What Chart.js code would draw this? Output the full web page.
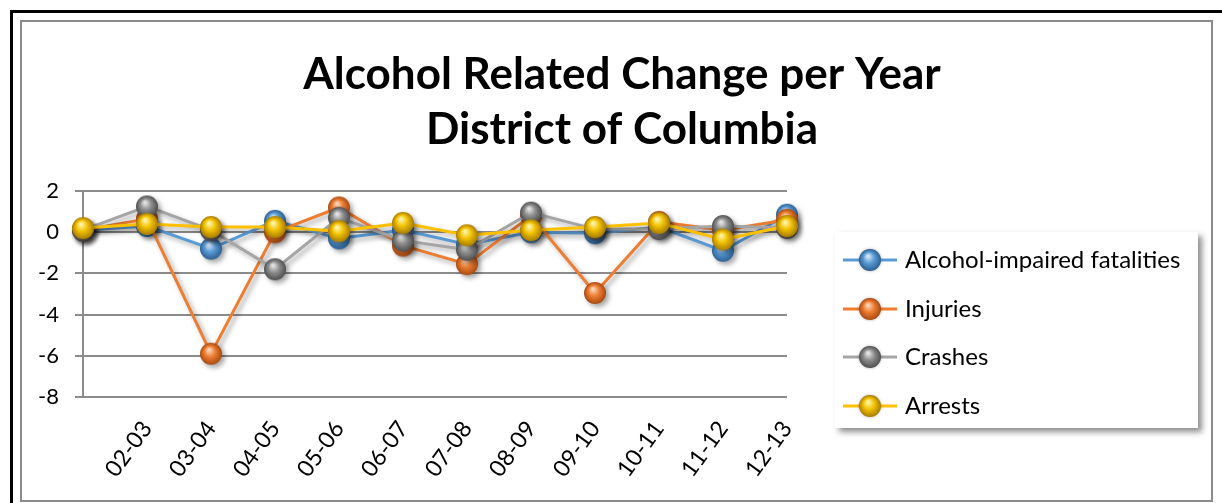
<!DOCTYPE html>
<html>
<head>
<meta charset="utf-8">
<script src="https://cdn.jsdelivr.net/npm/chart.js@4.4.1/dist/chart.umd.min.js"></script>
<style>
    html, body { margin: 0; padding: 0; background: #fff; }
    #wrap { position: relative; width: 1222px; height: 503px; overflow: hidden; }
    .outer { position: absolute; left: 10px; top: 10px; width: 1300px; height: 600px; border: 3px solid #000; box-sizing: border-box; }
    .inner { position: absolute; left: 20px; top: 20px; width: 1193px; height: 482px; border: 2px solid #8c8c8c; box-sizing: border-box; }
    canvas { position: absolute; left: 0; top: 0; }
</style>
</head>
<body>
<div id="wrap">
    <div class="outer"></div>
    <div class="inner"></div>
    <canvas id="chart" width="1222" height="503"></canvas>
</div>
<script>
const categories = ['', '02-03', '03-04', '04-05', '05-06', '06-07', '07-08', '08-09', '09-10', '10-11', '11-12', '12-13'];
const fatalities = [0.1, 0.3, -0.8, 0.55, -0.3, 0.1, -0.6, 0.0, -0.05, 0.25, -0.9, 0.85];
const injuries = [0.1, 0.65, -5.9, 0.0, 1.2, -0.65, -1.55, 0.8, -2.95, 0.5, 0.1, 0.6];
const crashes = [0.1, 1.25, 0.1, -1.8, 0.7, -0.4, -0.85, 0.95, 0.15, 0.15, 0.3, 0.2];
const arrests = [0.2, 0.4, 0.25, 0.25, 0.05, 0.45, -0.15, 0.1, 0.25, 0.45, -0.35, 0.3];
const yTicks = [2, 0, -2, -4, -6, -8];

const FONT = 'Lato, "Open Sans", sans-serif';

// Utility: shaded ball used as point marker
function makeBall(base, light, dark) {
    const c = document.createElement('canvas');
    c.width = 24;
    c.height = 24;
    const g = c.getContext('2d');
    const grad = g.createRadialGradient(10, 8, 1, 12, 12, 11);
    grad.addColorStop(0, light);
    grad.addColorStop(0.45, base);
    grad.addColorStop(1, dark);
    g.fillStyle = grad;
    g.beginPath();
    g.arc(12, 12, 11, 0, Math.PI * 2);
    g.fill();
    return c;
}

function series(label, data, color, ball, order) {
    return {
        label: label,
        data: data,
        borderColor: color,
        borderWidth: 3,
        pointStyle: ball,
        pointRadius: 11,
        pointHoverRadius: 11,
        tension: 0,
        clip: false,
        order: order
    };
}

const datasets = [
    series('Alcohol-impaired fatalities', fatalities, '#5B9BD5', makeBall('#5B9BD5', '#CFE3F5', '#2B5F92'), 3),
    series('Injuries', injuries, '#ED7D31', makeBall('#ED7D31', '#F9D2B4', '#A84A12'), 2),
    series('Crashes', crashes, '#A5A5A5', makeBall('#8E8E8E', '#E2E2E2', '#4F4F4F'), 1),
    series('Arrests', arrests, '#FFC000', makeBall('#F2C200', '#FFF3A8', '#A97C00'), 0)
];

// soft shadow under lines and balls
const shadowPlugin = {
    id: 'softShadow',
    beforeDatasetDraw(chart) {
        const ctx = chart.ctx;
        ctx.save();
        ctx.shadowColor = 'rgba(0,0,0,0.35)';
        ctx.shadowBlur = 5;
        ctx.shadowOffsetX = 3;
        ctx.shadowOffsetY = 3;
    },
    afterDatasetDraw(chart) {
        chart.ctx.restore();
    }
};

// boxed legend on the right, like the original
const boxLegend = {
    id: 'boxLegend',
    afterDraw(chart) {
        const ctx = chart.ctx;
        const box = { x: 835, y: 232, w: 363, h: 196 };
        ctx.save();
        ctx.shadowColor = 'rgba(0,0,0,0.45)';
        ctx.shadowBlur = 6;
        ctx.shadowOffsetX = 4;
        ctx.shadowOffsetY = 4;
        ctx.fillStyle = '#fff';
        ctx.fillRect(box.x, box.y, box.w, box.h);
        ctx.restore();

        const rows = [260, 309, 357, 406];
        datasets.forEach((ds, i) => {
            const y = rows[i];
            ctx.save();
            ctx.strokeStyle = ds.borderColor;
            ctx.lineWidth = 3;
            ctx.beginPath();
            ctx.moveTo(843, y);
            ctx.lineTo(897, y);
            ctx.stroke();
            ctx.shadowColor = 'rgba(0,0,0,0.3)';
            ctx.shadowBlur = 3;
            ctx.drawImage(ds.pointStyle, 870 - 12, y - 12);
            ctx.restore();
            ctx.fillStyle = '#000';
            ctx.font = '24px ' + FONT;
            ctx.textBaseline = 'middle';
            ctx.textAlign = 'left';
            ctx.fillText(ds.label, 905, y);
        });
    }
};

new Chart(document.getElementById('chart'), {
    type: 'line',
    data: { labels: categories, datasets: datasets },
    plugins: [shadowPlugin, boxLegend],
    options: {
        responsive: false,
        animation: false,
        events: [],
        layout: { padding: { left: 22, top: 0, right: 0, bottom: 0 } },
        plugins: {
            legend: { display: false },
            tooltip: { enabled: false },
            title: {
                display: true,
                text: ['Alcohol Related Change per Year', 'District of Columbia'],
                color: '#000',
                font: { family: FONT, size: 44, weight: 'bold', lineHeight: 1.25 },
                padding: { top: 47, bottom: 34 }
            }
        },
        scales: {
            x: {
                offset: false,
                grid: { display: false },
                border: { display: false },
                ticks: {
                    autoSkip: false,
                    minRotation: 54,
                    maxRotation: 54,
                    padding: 11,
                    color: '#000',
                    font: { family: FONT, size: 23 }
                },
                afterFit(scale) { scale.height = 106; }
            },
            y: {
                min: -8,
                max: 2,
                afterBuildTicks(scale) { scale.ticks = yTicks.map(v => ({ value: v })); },
                grid: { color: '#8c8c8c', lineWidth: 2, tickLength: 8 },
                border: { color: '#8c8c8c', width: 2 },
                ticks: {
                    padding: 16,
                    color: '#000',
                    font: { family: FONT, size: 22 }
                },
                afterFit(scale) { scale.width = 61; }
            },
            spacer: {
                position: 'right',
                grid: { display: false },
                border: { display: false },
                ticks: { display: false },
                afterFit(scale) { scale.width = 435; }
            }
        }
    }
});
</script>
</body>
</html>
